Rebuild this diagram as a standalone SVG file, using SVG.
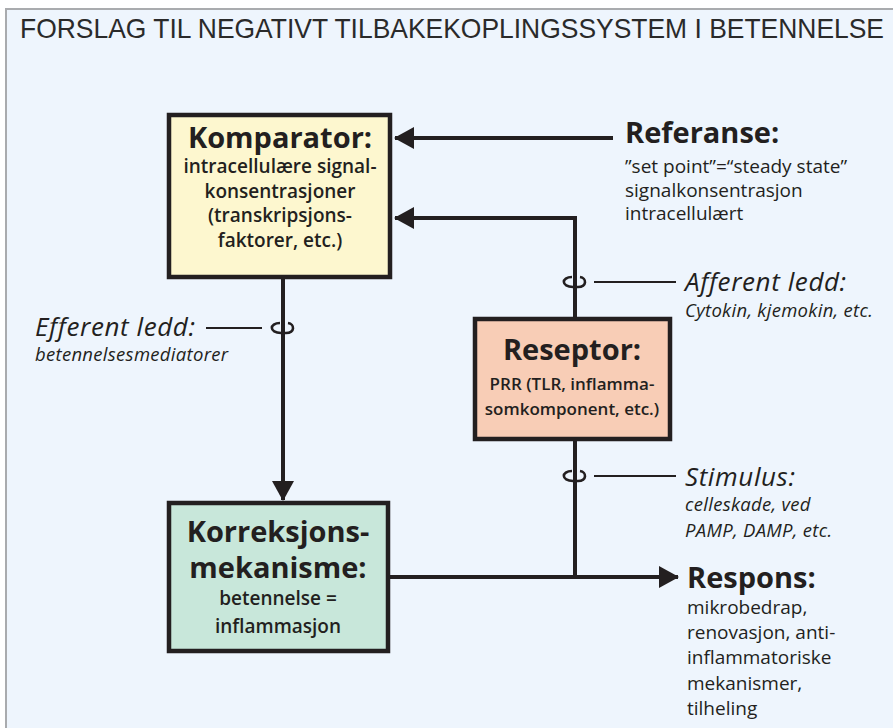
<svg xmlns="http://www.w3.org/2000/svg" width="893" height="728" viewBox="0 0 893 728">
  <style>
    .panel { fill: #eef5fd; stroke: #a9abae; stroke-width: 2; }
    .box { stroke: #231f20; stroke-width: 4.5; }
    .line { fill: none; stroke: #231f20; stroke-width: 4; }
    .thin { fill: none; stroke: #231f20; stroke-width: 2; }
    .loop { fill: none; stroke: #231f20; stroke-width: 2.6; }
    text { fill: #231f20; font-family: "Open Sans", "Noto Sans", "Liberation Sans", sans-serif; }
    .title { font-family: "Liberation Sans", Arial, sans-serif; font-size: 28px; fill: #2a2a2a; }
    .head { font-size: 29px; font-weight: 700; }
    .sub { font-size: 19px; font-weight: 600; }
    .subs { font-size: 17px; font-weight: 600; }
    .ital { font-size: 26px; font-style: italic; letter-spacing: 0.6px; }
    .itsub { font-size: 18.5px; font-style: italic; letter-spacing: 0.3px; }
    .plain { font-size: 19px; }
    .c { text-anchor: middle; }
  </style>
  <defs>
    <marker id="arrow" viewBox="0 0 20 22" refX="19" refY="11" markerWidth="20" markerHeight="22" markerUnits="userSpaceOnUse" orient="auto">
      <path d="M0 0 L20 11 L0 22 Z" fill="#231f20"/>
    </marker>
  </defs>

  <!-- background panel -->
  <rect x="0" y="0" width="893" height="728" fill="#ffffff"/>
  <rect class="panel" x="6" y="9" width="900" height="730"/>
  <text class="title" x="20" y="38" textLength="864" lengthAdjust="spacingAndGlyphs">FORSLAG TIL NEGATIVT TILBAKEKOPLINGSSYSTEM I BETENNELSE</text>

  <!-- connectors -->
  <g id="connectors">
    <line class="line" x1="613" y1="138" x2="395" y2="138" marker-end="url(#arrow)"/>
    <polyline class="line" points="575,318 575,218 395,218" marker-end="url(#arrow)"/>
    <line class="line" x1="283" y1="279" x2="283" y2="500" marker-end="url(#arrow)"/>
    <line class="line" x1="390" y1="577" x2="678" y2="577" marker-end="url(#arrow)"/>
    <line class="line" x1="575" y1="440" x2="575" y2="579"/>
    <!-- label leaders and loops -->
    <line class="thin" x1="594" y1="282" x2="676" y2="282"/>
    <path class="loop" d="M572 277 C561 277 561 287 573 287 L578 287 C587 287 587 278 580 277"/>
    <line class="thin" x1="594" y1="476" x2="676" y2="476"/>
    <path class="loop" d="M572 471 C561 471 561 481 573 481 L578 481 C587 481 587 472 580 471"/>
    <line class="thin" x1="206" y1="328" x2="262" y2="328"/>
    <path class="loop" d="M280 323 C269 323 269 333 281 333 L286 333 C295 333 295 324 288 323"/>
  </g>

  <g id="komparator">
    <rect class="box" x="169" y="115" width="221" height="162" fill="#fdf7cf"/>
    <text class="head c" x="280" y="148">Komparator:</text>
    <text class="sub c" x="280" y="173">intracellulære signal-</text>
    <text class="sub c" x="280" y="198">konsentrasjoner</text>
    <text class="sub c" x="280" y="222">(transkripsjons-</text>
    <text class="sub c" x="280" y="247">faktorer, etc.)</text>
  </g>

  <g id="referanse">
    <text class="head" x="625" y="143">Referanse:</text>
    <text class="plain" x="625" y="173">”set point”=“steady state”</text>
    <text class="plain" x="625" y="197">signalkonsentrasjon</text>
    <text class="plain" x="625" y="220">intracellulært</text>
  </g>

  <g id="reseptor">
    <rect class="box" x="475" y="319" width="195" height="120" fill="#f8cdb6"/>
    <text class="head c" x="572" y="360">Reseptor:</text>
    <text class="subs c" x="572" y="390">PRR (TLR, inflamma-</text>
    <text class="subs c" x="572" y="415">somkomponent, etc.)</text>
  </g>

  <g id="afferent">
    <text class="ital" x="685" y="291">Afferent ledd:</text>
    <text class="itsub" x="685" y="317">Cytokin, kjemokin, etc.</text>
  </g>

  <g id="efferent">
    <text class="ital" x="35" y="336">Efferent ledd:</text>
    <text class="itsub" x="35" y="361">betennelsesmediatorer</text>
  </g>

  <g id="stimulus">
    <text class="ital" x="685" y="486">Stimulus:</text>
    <text class="itsub" x="685" y="511">celleskade, ved</text>
    <text class="itsub" x="685" y="537">PAMP, DAMP, etc.</text>
  </g>

  <g id="korreksjon">
    <rect class="box" x="169" y="503" width="219" height="148" fill="#c8e7da"/>
    <text class="head c" x="278" y="542">Korreksjons-</text>
    <text class="head c" x="278" y="578">mekanisme:</text>
    <text class="sub c" x="278" y="605">betennelse =</text>
    <text class="sub c" x="278" y="633">inflammasjon</text>
  </g>

  <g id="respons">
    <text class="head" x="687" y="588">Respons:</text>
    <text class="plain" x="687" y="614">mikrobedrap,</text>
    <text class="plain" x="687" y="639">renovasjon, anti-</text>
    <text class="plain" x="687" y="664">inflammatoriske</text>
    <text class="plain" x="687" y="690">mekanismer,</text>
    <text class="plain" x="687" y="715">tilheling</text>
  </g>
</svg>
